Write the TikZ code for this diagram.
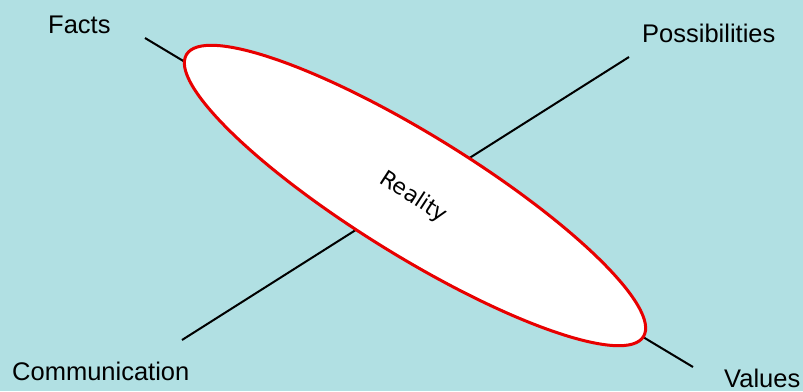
\documentclass[tikz,border=0pt]{standalone}
\usepackage{fontspec}
\setmainfont{Liberation Sans}
\newfontfamily\realfont{DejaVu Sans}
\usetikzlibrary{shapes.geometric}
\definecolor{bgcyan}{RGB}{177,224,227}
\definecolor{ellred}{RGB}{232,0,0}
\tikzset{
  axisline/.style={black, line width=2pt},
  lbl/.style={font=\fontsize{25.5}{28}\selectfont, inner sep=0pt, anchor=base west},
  realityellipse/.style={ellipse, draw=ellred, fill=white, line width=3pt, minimum width=537pt, minimum height=121pt, inner sep=0pt}
}
\begin{document}
\begin{tikzpicture}[x=1pt,y=-1pt]
  \fill[bgcyan] (0,0) rectangle (803,391);
  \useasboundingbox (0,0) rectangle (803,391);
  \coordinate (f1) at (145,38);
  \coordinate (f2) at (693,367);
  \coordinate (c1) at (182,340);
  \coordinate (c2) at (629,57);
  \draw[axisline] (f1) -- (f2);
  \draw[axisline] (c1) -- (c2);
  \node[realityellipse, rotate=-31.7] (ell) at (415,195.5) {};
  \node[rotate=-33, font=\realfont\fontsize{22}{26}\selectfont, inner sep=0pt] (real) at (413.5,197.5) {Reality};
  \node[lbl] (facts) at (48,33) {Facts};
  \node[lbl] (poss) at (642,42) {Possibilities};
  \node[lbl] (comm) at (12,380) {Communication};
  \node[lbl] (vals) at (724,387) {Values};
\end{tikzpicture}
\end{document}
